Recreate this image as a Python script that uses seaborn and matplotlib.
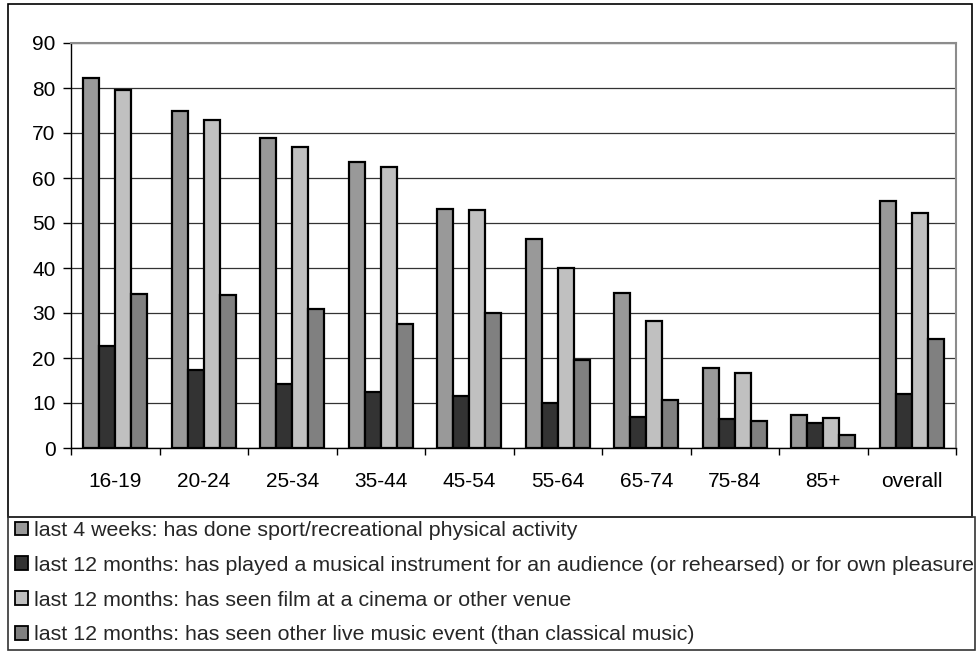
import matplotlib
matplotlib.use("Agg")
import matplotlib.pyplot as plt
from matplotlib.patches import Patch, Rectangle
import seaborn as sns
import pandas as pd
import numpy as np

categories = ["16-19", "20-24", "25-34", "35-44", "45-54", "55-64", "65-74", "75-84", "85+", "overall"]
series_names = [
    "last 4 weeks: has done sport/recreational physical activity",
    "last 12 months: has played a musical instrument for an audience (or rehearsed) or for own pleasure",
    "last 12 months: has seen film at a cinema or other venue",
    "last 12 months: has seen other live music event (than classical music)",
]
sport = [82.3, 74.9, 69.0, 63.6, 53.2, 46.4, 34.5, 17.8, 7.4, 55.0]
instrument = [22.7, 17.3, 14.3, 12.4, 11.6, 9.9, 7.0, 6.4, 5.6, 12.1]
film = [79.6, 73.0, 66.9, 62.4, 52.8, 39.9, 28.2, 16.7, 6.7, 52.3]
live_music = [34.3, 33.9, 30.8, 27.5, 29.9, 19.5, 10.7, 6.0, 2.8, 24.3]
colors = ["#999999", "#333333", "#c0c0c0", "#808080"]

rows = []
for name, vals in zip(series_names, [sport, instrument, film, live_music]):
    for c, v in zip(categories, vals):
        rows.append({"group": c, "series": name, "value": v})
df = pd.DataFrame(rows)

sns.set_theme(style="white")
plt.rcParams["font.family"] = ["Liberation Sans", "DejaVu Sans"]

W, H = 976, 654
fig = plt.figure(figsize=(W / 100, H / 100), dpi=100)
ax = fig.add_axes([71 / W, 1 - 448 / H, (956 - 71) / W, (448 - 43) / H])

sns.barplot(data=df, x="group", y="value", hue="series", order=categories,
            hue_order=series_names, palette=colors, width=0.72, gap=0,
            edgecolor="black", linewidth=1.6, saturation=1, ax=ax, legend=False)

ax.set_ylim(0, 90)
ax.set_xlim(-0.5, len(categories) - 0.5)
ax.set_yticks(np.arange(0, 91, 10))
ax.yaxis.grid(True, color="#333333", linewidth=0.9)
ax.set_axisbelow(True)
ax.set_xlabel("")
ax.set_ylabel("")
for s in ["left", "bottom"]:
    ax.spines[s].set_color("black")
    ax.spines[s].set_linewidth(1.0)
for s in ["top", "right"]:
    ax.spines[s].set_color("#8c8c8c")
    ax.spines[s].set_linewidth(1.5)
ax.tick_params(axis="y", which="major", left=True, length=6, width=1, color="black",
               pad=5, labelsize=15, labelcolor="black")
ax.set_xticks(np.arange(-0.5, len(categories), 1.0), minor=True)
ax.tick_params(axis="x", which="minor", bottom=True, length=5, width=1, color="black")
ax.tick_params(axis="x", which="major", bottom=False, length=0, pad=17, labelsize=15,
               labelcolor="black")

# chart frame and legend box
fig.patches.append(Rectangle((8 / W, 1 - 517 / H), (972 - 8) / W, (517 - 4) / H,
                             transform=fig.transFigure, fill=False, edgecolor="black",
                             linewidth=1.2))
fig.patches.append(Rectangle((8 / W, 1 - 650 / H), (975 - 8) / W, (650 - 517) / H,
                             transform=fig.transFigure, fill=False, edgecolor="#333333",
                             linewidth=1.2))

handles = [Patch(facecolor=c, edgecolor="black", linewidth=1.3) for c in colors]
fig.legend(handles, series_names, loc="upper left", bbox_to_anchor=(15 / W, 1 - 521 / H),
           frameon=False, fontsize=15.4, handlelength=0.6, handleheight=0.6,
           handletextpad=0.3, labelspacing=0.74, borderaxespad=0, borderpad=0)

fig.savefig("out.png", dpi=100, facecolor="white")
